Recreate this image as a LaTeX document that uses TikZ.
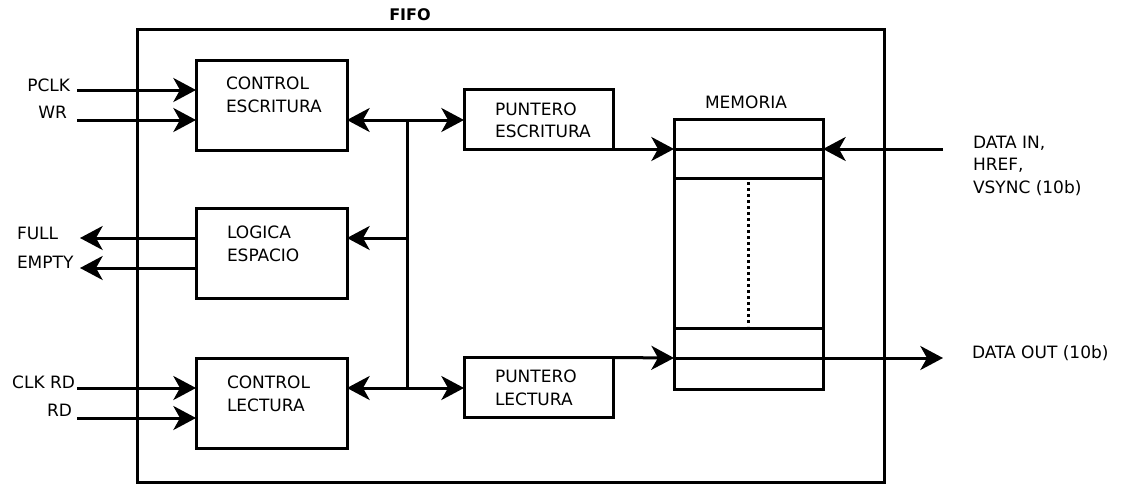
\documentclass[tikz,border=0pt]{standalone}
\usepackage{fontspec}
\setmainfont{DejaVu Sans}
\usetikzlibrary{arrows.meta}
\begin{document}
\begin{tikzpicture}[x=0.75pt,y=-0.75pt,
  every node/.style={inner sep=0pt, outer sep=0pt},
  blk/.style={draw, line width=2.25pt, rectangle},
  txt/.style={font=\fontsize{12.75pt}{15pt}\selectfont, anchor=base west},
  txte/.style={font=\fontsize{12.75pt}{15pt}\selectfont, anchor=base east},
  wire/.style={line width=2.25pt},
  arr/.style={wire, -{Stealth[length=17pt, width=18pt, inset=5pt]}},
  darr/.style={wire, {Stealth[length=17pt, width=18pt, inset=5pt]}-{Stealth[length=17pt, width=18pt, inset=5pt]}}
]
\useasboundingbox (0,0) rectangle (1121,496);
\fill[white] (0,0) rectangle (1121,496);

% outer FIFO box
\node[blk, minimum width=560.25pt, minimum height=339.75pt] (fifo) at (510.5,255.5) {};
\node[font=\bfseries\fontsize{12pt}{14pt}\selectfont, anchor=base] (fifot) at (410,20) {FIFO};

% blocks
\node[blk, minimum width=113.25pt, minimum height=67.5pt] (ce) at (271.5,105) {};
\node[blk, minimum width=113.25pt, minimum height=67.5pt] (le) at (271.5,253) {};
\node[blk, minimum width=113.25pt, minimum height=67.5pt] (cl) at (271.5,403) {};
\node[blk, minimum width=111.75pt, minimum height=45pt] (pe) at (538.5,119) {};
\node[blk, minimum width=111.75pt, minimum height=45pt] (pl) at (538.5,387.5) {};
\node[blk, minimum width=111.75pt, minimum height=202.5pt] (mem) at (748.5,254) {};

% block texts
\node[txt] (ce1) at (226,89) {CONTROL};
\node[txt] (ce2) at (226,112) {ESCRITURA};
\node[txt] (le1) at (227,238) {LOGICA};
\node[txt] (le2) at (227,261) {ESPACIO};
\node[txt] (cl1) at (227,388) {CONTROL};
\node[txt] (cl2) at (227,411) {LECTURA};
\node[txt] (pe1) at (495,115) {PUNTERO};
\node[txt] (pe2) at (495,137) {ESCRITURA};
\node[txt] (pl1) at (495,382) {PUNTERO};
\node[txt] (pl2) at (495,405) {LECTURA};
\node[txt, anchor=base] (memt) at (746,108) {MEMORIA};

% memory interior
\coordinate (mwr) at (674,149);
\coordinate (mrd) at (674,358);
\draw[wire] (mwr) -- (mem.east |- mwr);
\draw[wire] (mem.west |- 0,178) -- (mem.east |- 0,178);
\draw[wire] (mem.west |- 0,328) -- (mem.east |- 0,328);
\coordinate (dt) at (748,182);
\coordinate (db) at (748,326);
\draw[line width=2.25pt, dash pattern=on 2.25pt off 2.25pt] (dt) -- (db);

% internal bus
\coordinate (bt) at (407,120);
\coordinate (bm) at (407,238);
\coordinate (bb) at (407,388);
\draw[wire] (bt) -- (bb);
\draw[darr] (ce.east |- bt) -- (pe.west |- bt);
\draw[arr] (bm) -- (le.east |- bm);
\draw[darr] (cl.east |- bb) -- (pl.west |- bb);

% pointers to memory
\draw[arr] (pe.south east) -- (mwr);
\draw[arr] (pl.north east) -- (mrd);

% data in / out
\coordinate (din) at (943,149);
\coordinate (dout) at (943,358);
\draw[arr] (din) -- (mem.east |- din);
\draw[arr] (mrd) -- (dout);
\node[txt] (dint1) at (973,148) {DATA IN,};
\node[txt] (dint2) at (973,170) {HREF,};
\node[txt] (dint3) at (973,193) {VSYNC (10b)};
\node[txt] (doutt) at (972,358) {DATA OUT (10b)};

% inputs
\coordinate (pclk) at (77,90);
\coordinate (wr) at (77,120);
\coordinate (clkrd) at (77,388);
\coordinate (rd) at (77,418);
\draw[arr] (pclk) -- (ce.west |- pclk);
\draw[arr] (wr) -- (ce.west |- wr);
\draw[arr] (clkrd) -- (cl.west |- clkrd);
\draw[arr] (rd) -- (cl.west |- rd);
\node[txte] (pclkt) at (70,91) {PCLK};
\node[txte] (wrt) at (67,118) {WR};
\node[txte] (clkrdt) at (75,388) {CLK RD};
\node[txte] (rdt) at (72,416) {RD};

% outputs
\coordinate (full) at (80,238);
\coordinate (empty) at (80,268);
\draw[arr] (le.west |- full) -- (full);
\draw[arr] (le.west |- empty) -- (empty);
\node[txt] (fullt) at (17,239) {FULL};
\node[txt] (emptyt) at (17,268) {EMPTY};
\end{tikzpicture}
\end{document}
